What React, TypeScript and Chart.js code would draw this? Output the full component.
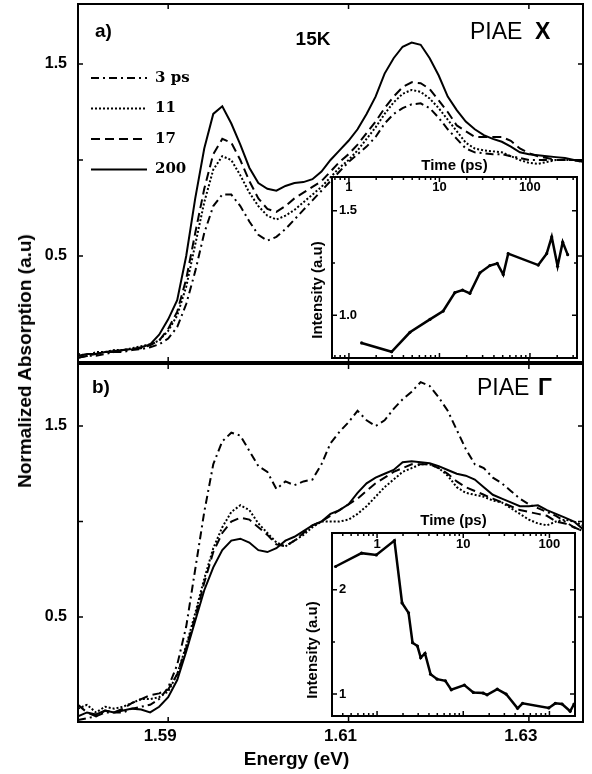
import React, { useEffect, useRef } from 'react';
import { Chart, registerables } from 'chart.js';

Chart.register(...registerables);

const SANS = '"Liberation Sans", Arial, Helvetica, sans-serif';
const SERIF = '"DejaVu Serif", "Liberation Serif", serif';

// ---------- data ----------
const energy = [
  1.580, 1.581, 1.582, 1.583, 1.584, 1.585, 1.586, 1.587, 1.588, 1.589,
  1.590, 1.591, 1.592, 1.593, 1.594, 1.595, 1.596, 1.597, 1.598, 1.599,
  1.600, 1.601, 1.602, 1.603, 1.604, 1.605, 1.606, 1.607, 1.608, 1.609,
  1.610, 1.611, 1.612, 1.613, 1.614, 1.615, 1.616, 1.617, 1.618, 1.619,
  1.620, 1.621, 1.622, 1.623, 1.624, 1.625, 1.626, 1.627, 1.628, 1.629,
  1.630, 1.631, 1.632, 1.633, 1.634, 1.635, 1.636,
];

const seriesLabels = ['3 ps', '11', '17', '200'];

// panel a) PIAE X
const topPs3 = [
  -0.03, -0.02, -0.02, -0.01, 0.0, 0.0, 0.01, 0.015, 0.025, 0.04,
  0.07, 0.13, 0.25, 0.42, 0.62, 0.76, 0.82, 0.82, 0.76, 0.68,
  0.61, 0.58, 0.6, 0.64, 0.69, 0.74, 0.79, 0.84, 0.89, 0.94,
  0.99, 1.03, 1.07, 1.12, 1.19, 1.24, 1.27, 1.29, 1.295, 1.27,
  1.22, 1.16, 1.11, 1.06, 1.04, 1.035, 1.03, 1.03, 1.02, 1.01,
  1.0, 1.0, 1.0, 1.0, 1.0, 1.0, 0.99,
];
const topPs11 = [
  -0.01, -0.02, 0.0, 0.0, 0.01, 0.01, 0.02, 0.03, 0.04, 0.06,
  0.11, 0.19, 0.34, 0.56, 0.78, 0.95, 1.02, 1.0, 0.92, 0.83,
  0.76, 0.71, 0.69, 0.71, 0.74, 0.78, 0.82, 0.86, 0.91, 0.96,
  1.0, 1.05, 1.11, 1.17, 1.24, 1.3, 1.345, 1.365, 1.355, 1.32,
  1.27, 1.21, 1.15, 1.09, 1.06, 1.05, 1.045, 1.04, 1.02, 1.0,
  0.985, 0.98, 0.99, 1.0, 1.0, 1.0, 0.99,
];
const topPs17 = [
  -0.03, -0.02, -0.01, 0.0, 0.0, 0.01, 0.015, 0.02, 0.035, 0.06,
  0.12, 0.21, 0.38, 0.62, 0.85, 1.03, 1.11, 1.09, 1.0, 0.89,
  0.8, 0.745, 0.73, 0.76, 0.8, 0.83, 0.86, 0.89, 0.94, 0.99,
  1.03, 1.08, 1.14, 1.2, 1.27, 1.33, 1.38, 1.405, 1.4, 1.37,
  1.31, 1.25, 1.18, 1.15, 1.12, 1.12, 1.12, 1.12, 1.1, 1.06,
  1.035, 1.02, 1.01, 1.0, 1.0, 1.0, 0.99,
];
const topPs200 = [
  -0.02, -0.01, -0.01, 0.0, 0.005, 0.01, 0.015, 0.025, 0.04, 0.09,
  0.17, 0.27, 0.5, 0.8, 1.06, 1.24, 1.28, 1.19, 1.08, 0.96,
  0.88, 0.85, 0.84, 0.865, 0.88, 0.885, 0.9, 0.94, 1.0, 1.05,
  1.1, 1.16, 1.24, 1.33, 1.45, 1.53, 1.59, 1.612, 1.6, 1.53,
  1.44, 1.33, 1.26, 1.2, 1.16, 1.13, 1.11, 1.095, 1.07, 1.04,
  1.03, 1.025, 1.02, 1.015, 1.01, 1.0, 1.0,
];

// panel b) PIAE Γ
const botPs3 = [
  -0.04, -0.03, -0.02, 0.0, 0.0, 0.0, 0.02, 0.03, 0.04, 0.07,
  0.13, 0.25, 0.45, 0.75, 1.05, 1.3, 1.42, 1.465, 1.45, 1.37,
  1.29, 1.26, 1.17, 1.21, 1.19, 1.21, 1.22, 1.3, 1.41, 1.47,
  1.52, 1.58, 1.53, 1.5, 1.53, 1.59, 1.64, 1.68, 1.73, 1.71,
  1.65, 1.58, 1.48, 1.38, 1.3, 1.28, 1.23, 1.2, 1.16, 1.12,
  1.09, 1.07, 1.05, 1.03, 1.0, 0.97, 0.95,
];
const botPs11 = [
  0.02, 0.04, 0.0, 0.03, 0.02, 0.03, 0.05, 0.07, 0.07, 0.08,
  0.11, 0.2, 0.35, 0.52, 0.7, 0.86, 0.97, 1.05, 1.085, 1.06,
  0.99, 0.94, 0.89, 0.87, 0.9, 0.93, 0.97, 1.0, 1.0, 1.0,
  1.01, 1.04, 1.08, 1.13, 1.18, 1.22, 1.26, 1.28, 1.3, 1.3,
  1.28, 1.24, 1.18, 1.15, 1.14, 1.13, 1.11, 1.1, 1.07, 1.04,
  1.01, 0.99, 0.98, 1.0, 1.01, 1.0, 0.98,
];
const botPs17 = [
  0.04, 0.0, -0.02, 0.01, 0.0, 0.02, 0.05, 0.07, 0.09, 0.1,
  0.12, 0.2, 0.34, 0.5, 0.68, 0.84, 0.94, 1.0, 1.02, 1.01,
  0.97, 0.93, 0.88, 0.87, 0.9, 0.94, 0.98, 1.0, 1.03, 1.06,
  1.09, 1.12, 1.16, 1.2, 1.23, 1.26, 1.28, 1.3, 1.3, 1.3,
  1.28, 1.25, 1.21, 1.18, 1.16, 1.14, 1.12, 1.1, 1.08, 1.06,
  1.05, 1.04, 1.03, 1.0, 0.99, 0.97, 0.95,
];
const botPs200 = [
  -0.02, 0.0, -0.01, 0.01, 0.0, 0.01, 0.02, 0.015, 0.0, 0.03,
  0.08, 0.17, 0.32, 0.48, 0.64, 0.76, 0.85, 0.9, 0.91, 0.89,
  0.85, 0.84, 0.86, 0.9, 0.92, 0.95, 0.98, 1.0, 1.04, 1.06,
  1.09, 1.15, 1.2, 1.23, 1.25, 1.27, 1.31, 1.315, 1.31, 1.305,
  1.29, 1.27, 1.25, 1.24, 1.22, 1.18, 1.14, 1.12, 1.1, 1.08,
  1.08, 1.085, 1.06, 1.04, 1.02, 1.0, 0.96,
];

// insets: intensity vs time (ps)
const insetXTime = [1.38, 2.96, 4.72, 7.85, 11.0, 14.8, 18.0, 21.7, 28.0, 36.1, 43.5, 50.7, 57.5, 123.5, 153, 174, 202, 230, 261];
const insetXIntensity = [0.867, 0.825, 0.918, 0.98, 1.02, 1.108, 1.12, 1.105, 1.203, 1.238, 1.248, 1.195, 1.295, 1.24, 1.295, 1.375, 1.235, 1.35, 1.29];
const insetGTime = [0.33, 0.66, 0.98, 1.59, 1.95, 2.32, 2.58, 2.94, 3.21, 3.6, 4.18, 4.98, 6.2, 7.26, 10.3, 13.1, 17.0, 18.9, 24.8, 31.4, 42.7, 48.8, 98.2, 117, 140, 174, 193];
const insetGIntensity = [2.222, 2.35, 2.333, 2.47, 1.873, 1.778, 1.492, 1.46, 1.349, 1.39, 1.19, 1.143, 1.127, 1.041, 1.086, 1.016, 1.01, 0.993, 1.048, 1.0, 0.864, 0.911, 0.867, 0.911, 0.905, 0.835, 0.905];

// ticks
const energyTicks = [1.59, 1.61, 1.63];
const absTicks = [0.5, 1.0, 1.5];
const absLabeled = [0.5, 1.5];
const timeTicks = [1, 10, 100];
const timeMinor = [0.4, 0.5, 0.6, 0.7, 0.8, 0.9, 2, 3, 4, 5, 6, 7, 8, 9, 20, 30, 40, 50, 60, 70, 80, 90, 200, 300];
const insetXTicks = [1.0, 1.5];
const insetXMinor = [1.25];
const insetGTicks = [1, 2];
const insetGMinor = [1.5];

// ---------- helpers ----------
const lineDashes = [[8, 4, 2, 4], [2, 2], [9, 5], []];

function makeDatasets(list: number[][]) {
  return list.map((vals, k) => ({
    label: seriesLabels[k],
    data: energy.map((e, i) => ({ x: e, y: vals[i] })),
    borderColor: '#000',
    backgroundColor: '#000',
    borderWidth: 2,
    borderDash: lineDashes[k],
    pointRadius: 0,
    fill: false,
    tension: 0,
  }));
}

function noPad(s: any) {
  s.paddingTop = 0;
  s.paddingBottom = 0;
  s.paddingLeft = 0;
  s.paddingRight = 0;
}

type FrameSpec = {
  xMajor: number[];
  xMinor?: number[];
  yMajor: number[];
  yMinor?: number[];
  len: number;
  minorLen: number;
  fillWhite?: boolean;
};

function framePlugin(spec: FrameSpec) {
  return {
    id: 'frame',
    beforeDraw(chart: any) {
      if (!spec.fillWhite) return;
      const { ctx, chartArea: a } = chart;
      ctx.save();
      ctx.fillStyle = '#fff';
      ctx.fillRect(a.left, a.top, a.right - a.left, a.bottom - a.top);
      ctx.restore();
    },
    afterDraw(chart: any) {
      const { ctx, chartArea: a, scales } = chart;
      const xs = scales.x;
      const ys = scales.y;
      ctx.save();
      ctx.strokeStyle = '#000';
      ctx.setLineDash([]);
      ctx.lineWidth = 1.5;
      ctx.beginPath();
      const seg = (x1: number, y1: number, x2: number, y2: number) => {
        ctx.moveTo(x1, y1);
        ctx.lineTo(x2, y2);
      };
      const xt = (vals: number[], len: number) =>
        vals.forEach((v) => {
          const p = xs.getPixelForValue(v);
          if (p <= a.left + 1 || p >= a.right - 1) return;
          seg(p, a.top, p, a.top + len);
          seg(p, a.bottom, p, a.bottom - len);
        });
      const yt = (vals: number[], len: number) =>
        vals.forEach((v) => {
          const p = ys.getPixelForValue(v);
          if (p <= a.top + 1 || p >= a.bottom - 1) return;
          seg(a.left, p, a.left + len, p);
          seg(a.right, p, a.right - len, p);
        });
      xt(spec.xMajor, spec.len);
      xt(spec.xMinor || [], spec.minorLen);
      yt(spec.yMajor, spec.len);
      yt(spec.yMinor || [], spec.minorLen);
      ctx.stroke();
      ctx.lineWidth = 2;
      ctx.strokeRect(a.left, a.top, a.right - a.left, a.bottom - a.top);
      ctx.restore();
    },
  };
}

type Part = { text: string; x: number; font: string };
type TextItem = {
  parts: Part[];
  y: number;
  align?: CanvasTextAlign;
  baseline?: CanvasTextBaseline;
  rotate?: number;
};

function textPlugin(items: TextItem[]) {
  return {
    id: 'texts',
    afterDraw(chart: any) {
      const ctx = chart.ctx;
      items.forEach((it) => {
        it.parts.forEach((p) => {
          ctx.save();
          ctx.fillStyle = '#000';
          ctx.font = p.font;
          ctx.textAlign = it.align || 'left';
          ctx.textBaseline = it.baseline || 'alphabetic';
          ctx.translate(p.x, it.y);
          if (it.rotate) ctx.rotate(it.rotate);
          ctx.fillText(p.text, 0, 0);
          ctx.restore();
        });
      });
    },
  };
}

function legendPlugin(pos: { x0: number; x1: number; tx: number; y0: number; dy: number; font: string }) {
  return {
    id: 'seriesLegend',
    afterDraw(chart: any) {
      const ctx = chart.ctx;
      chart.data.datasets.forEach((ds: any, i: number) => {
        const y = pos.y0 + i * pos.dy;
        ctx.save();
        ctx.strokeStyle = '#000';
        ctx.lineWidth = 2;
        ctx.setLineDash(ds.borderDash || []);
        ctx.beginPath();
        ctx.moveTo(pos.x0, y);
        ctx.lineTo(pos.x1, y);
        ctx.stroke();
        ctx.setLineDash([]);
        ctx.font = pos.font;
        ctx.fillStyle = '#000';
        ctx.textBaseline = 'middle';
        ctx.textAlign = 'left';
        ctx.fillText(ds.label, pos.tx, y);
        ctx.restore();
      });
    },
  };
}

const common = {
  animation: false,
  responsive: false,
  events: [],
  plugins: { legend: { display: false }, tooltip: { enabled: false } },
  elements: { line: { tension: 0 } },
};

const bold = (size: number) => ({ family: SANS, size, weight: 'bold' as const });

function yMain(min: number, max: number) {
  return {
    type: 'linear',
    min,
    max,
    afterFit: (s: any) => {
      s.width = 78;
      noPad(s);
    },
    afterBuildTicks: (s: any) => {
      s.ticks = absTicks.map((v) => ({ value: v }));
    },
    ticks: {
      callback: (v: number) => (absLabeled.includes(v) ? v.toFixed(1) : ''),
      font: bold(16),
      color: '#000',
      padding: 11,
    },
    grid: { display: false, drawTicks: false },
    border: { display: false },
  };
}

const eMin = 1.58;
const eMax = 1.636;

const topConfig = (): any => ({
  type: 'line',
  data: { datasets: makeDatasets([topPs3, topPs11, topPs17, topPs200]) },
  options: {
    ...common,
    layout: { padding: { left: 0, right: 9, top: 4, bottom: 4 } },
    scales: {
      x: { type: 'linear', display: false, min: eMin, max: eMax, afterFit: noPad },
      y: yMain(-0.052, 1.8125),
    },
  },
  plugins: [
    framePlugin({ xMajor: energyTicks, yMajor: absTicks, len: 5, minorLen: 3 }),
    textPlugin([
      { parts: [{ text: 'a)', x: 95, font: `bold 19px ${SANS}` }], y: 37 },
      { parts: [{ text: '15K', x: 313, font: `bold 19px ${SANS}` }], y: 45, align: 'center' },
      {
        parts: [
          { text: 'PIAE', x: 470, font: `23px ${SANS}` },
          { text: 'X', x: 535, font: `bold 23px ${SANS}` },
        ],
        y: 39,
      },
    ]),
    legendPlugin({ x0: 91, x1: 147, tx: 155, y0: 78, dy: 30.5, font: `bold 15px ${SERIF}` }),
  ],
});

const bottomConfig = (): any => ({
  type: 'line',
  data: { datasets: makeDatasets([botPs3, botPs11, botPs17, botPs200]) },
  options: {
    ...common,
    layout: { padding: { left: 0, right: 9, top: 2, bottom: 0 } },
    scales: {
      x: {
        type: 'linear',
        min: eMin,
        max: eMax,
        afterFit: (s: any) => {
          s.height = 52;
          noPad(s);
        },
        afterBuildTicks: (s: any) => {
          s.ticks = energyTicks.map((v) => ({ value: v }));
        },
        ticks: {
          callback: (v: number) => v.toFixed(2),
          font: bold(17),
          color: '#000',
          padding: 4,
          labelOffset: -8,
          maxRotation: 0,
          autoSkip: false,
        },
        grid: { display: false, drawTicks: false },
        border: { display: false },
      },
      y: yMain(-0.05, 1.825),
    },
  },
  plugins: [
    framePlugin({ xMajor: energyTicks, yMajor: absTicks, len: 5, minorLen: 3 }),
    textPlugin([
      { parts: [{ text: 'b)', x: 92, font: `bold 19px ${SANS}` }], y: 31 },
      {
        parts: [
          { text: 'PIAE', x: 477, font: `23px ${SANS}` },
          { text: 'Γ', x: 538, font: `bold 23px ${SANS}` },
        ],
        y: 33,
      },
      { parts: [{ text: 'Energy (eV)', x: 296.5, font: `bold 19px ${SANS}` }], y: 403, align: 'center' },
    ]),
  ],
});

function insetConfig(o: {
  times: number[];
  values: number[];
  tMin: number;
  tMax: number;
  yMin: number;
  yMax: number;
  yTicks: number[];
  yMinor: number[];
  yFmt: (v: number) => string;
  pad: { left: number; right: number; top: number; bottom: number };
  xHeight: number;
  titlePad: number;
  labelPad: number;
  yTitle: { x: number; y: number };
}): any {
  return {
    type: 'line',
    data: {
      datasets: [
        {
          label: 'Intensity',
          data: o.times.map((t, i) => ({ x: t, y: o.values[i] })),
          borderColor: '#000',
          backgroundColor: '#000',
          borderWidth: 2.5,
          pointRadius: 1.6,
          pointBorderWidth: 0,
          pointBackgroundColor: '#000',
          tension: 0,
          fill: false,
        },
      ],
    },
    options: {
      ...common,
      layout: { padding: o.pad },
      scales: {
        x: {
          type: 'logarithmic',
          position: 'top',
          min: o.tMin,
          max: o.tMax,
          afterFit: (s: any) => {
            s.height = o.xHeight;
            noPad(s);
          },
          afterBuildTicks: (s: any) => {
            s.ticks = timeTicks.map((v) => ({ value: v }));
          },
          ticks: {
            mirror: true,
            padding: o.labelPad,
            callback: (v: number) => String(v),
            font: bold(13),
            color: '#000',
            autoSkip: false,
            maxRotation: 0,
          },
          title: {
            display: true,
            text: 'Time (ps)',
            font: bold(15),
            color: '#000',
            padding: { top: o.titlePad, bottom: 0 },
          },
          grid: { display: false, drawTicks: false },
          border: { display: false },
        },
        y: {
          type: 'linear',
          min: o.yMin,
          max: o.yMax,
          afterFit: (s: any) => {
            s.width = 0;
            noPad(s);
          },
          afterBuildTicks: (s: any) => {
            s.ticks = o.yTicks.map((v) => ({ value: v }));
          },
          ticks: {
            mirror: true,
            padding: 7,
            callback: o.yFmt,
            font: bold(13),
            color: '#000',
          },
          grid: { display: false, drawTicks: false },
          border: { display: false },
        },
      },
    },
    plugins: [
      framePlugin({
        xMajor: timeTicks,
        xMinor: timeMinor,
        yMajor: o.yTicks,
        yMinor: o.yMinor,
        len: 5,
        minorLen: 3,
        fillWhite: true,
      }),
      textPlugin([
        {
          parts: [{ text: 'Intensity (a.u)', x: o.yTitle.x, font: `bold 15px ${SANS}` }],
          y: o.yTitle.y,
          align: 'center',
          baseline: 'middle',
          rotate: -Math.PI / 2,
        },
      ]),
    ],
  };
}

const insetTopConfig = () =>
  insetConfig({
    times: insetXTime,
    values: insetXIntensity,
    tMin: 0.65,
    tMax: 331,
    yMin: 0.795,
    yMax: 1.662,
    yTicks: insetXTicks,
    yMinor: insetXMinor,
    yFmt: (v: number) => v.toFixed(1),
    pad: { left: 32, right: 15, top: 0, bottom: 3 },
    xHeight: 27,
    titlePad: 7,
    labelPad: 3,
    yTitle: { x: 18, y: 140 },
  });

const insetBottomConfig = () =>
  insetConfig({
    times: insetGTime,
    values: insetGIntensity,
    tMin: 0.32,
    tMax: 198,
    yMin: 0.79,
    yMax: 2.543,
    yTicks: insetGTicks,
    yMinor: insetGMinor,
    yFmt: (v: number) => String(v),
    pad: { left: 32, right: 17, top: 0, bottom: 3 },
    xHeight: 33,
    titlePad: 12,
    labelPad: 4,
    yTitle: { x: 13, y: 150 },
  });

function ChartCanvas(props: { make: () => any; left: number; top: number; width: number; height: number }) {
  const ref = useRef<HTMLCanvasElement>(null);
  useEffect(() => {
    const chart = new Chart(ref.current as HTMLCanvasElement, props.make());
    return () => chart.destroy();
  }, []);
  return (
    <canvas
      ref={ref}
      width={props.width}
      height={props.height}
      style={{ position: 'absolute', left: props.left, top: props.top, width: props.width, height: props.height }}
    />
  );
}

export default function App() {
  return (
    <div style={{ position: 'absolute', left: 0, top: 0, width: 592, height: 774, background: '#fff', overflow: 'hidden' }}>
      <ChartCanvas make={topConfig} left={0} top={0} width={592} height={366} />
      <ChartCanvas make={bottomConfig} left={0} top={362} width={592} height={412} />
      <ChartCanvas make={insetTopConfig} left={300} top={150} width={292} height={212} />
      <ChartCanvas make={insetBottomConfig} left={300} top={500} width={292} height={220} />
      <div
        style={{
          position: 'absolute',
          left: 25,
          top: 361,
          transform: 'translate(-50%, -50%) rotate(-90deg)',
          font: `bold 19px ${SANS}`,
          whiteSpace: 'nowrap',
          color: '#000',
        }}
      >
        Normalized Absorption (a.u)
      </div>
    </div>
  );
}
